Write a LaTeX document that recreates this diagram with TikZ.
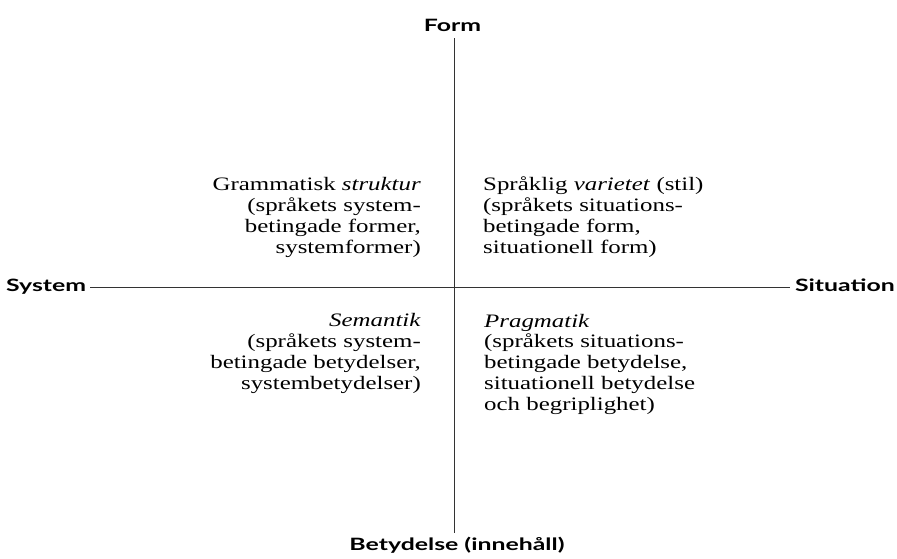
\documentclass[tikz,border=0pt]{standalone}
\usepackage{fontspec}
\setmainfont[FakeStretch=1.31]{Liberation Serif}
\newfontfamily\labelfont[FakeStretch=1.46]{Lato}
\begin{document}
\begin{tikzpicture}[x=1pt,y=-1pt,
  axislabel/.style={font=\labelfont\bfseries\fontsize{17}{20}\selectfont, inner sep=0pt},
  quad/.style={font=\fontsize{19}{20.7}\selectfont, inner sep=0pt},
  axis/.style={line width=1pt, draw=black!80}]
\useasboundingbox (0,0) rectangle (897,558);
\node[axislabel, anchor=base] (form) at (452.5,31) {Form};
\node[axislabel, anchor=base] (bet) at (457,550) {Betydelse (innehåll)};
\node[axislabel, anchor=base west] (sys) at (6,291) {System};
\node[axislabel, anchor=base east] (sit) at (895,291) {Situation};
\coordinate (top) at (454,38);
\coordinate (bot) at (454,533);
\coordinate (left) at (90,287);
\coordinate (right) at (790,287);
\draw[axis] (top) -- (bot);
\draw[axis] (left) -- (right);
\node[quad, anchor=base east, align=right] (gs) at (421,253) {Grammatisk \textit{struktur}\\(språkets system-\\betingade former,\\systemformer)};
\node[quad, anchor=base west, align=left] (sv) at (483,253) {Språklig \textit{varietet} (stil)\\(språkets situations-\\betingade form,\\situationell form)};
\node[quad, anchor=base east, align=right] (sem) at (421,389) {\textit{Semantik}\\(språkets system-\\betingade betydelser,\\systembetydelser)};
\node[quad, anchor=base west, align=left] (prag) at (484,410) {\textit{Pragmatik}\\(språkets situations-\\betingade betydelse,\\situationell betydelse\\och begriplighet)};
\end{tikzpicture}
\end{document}
